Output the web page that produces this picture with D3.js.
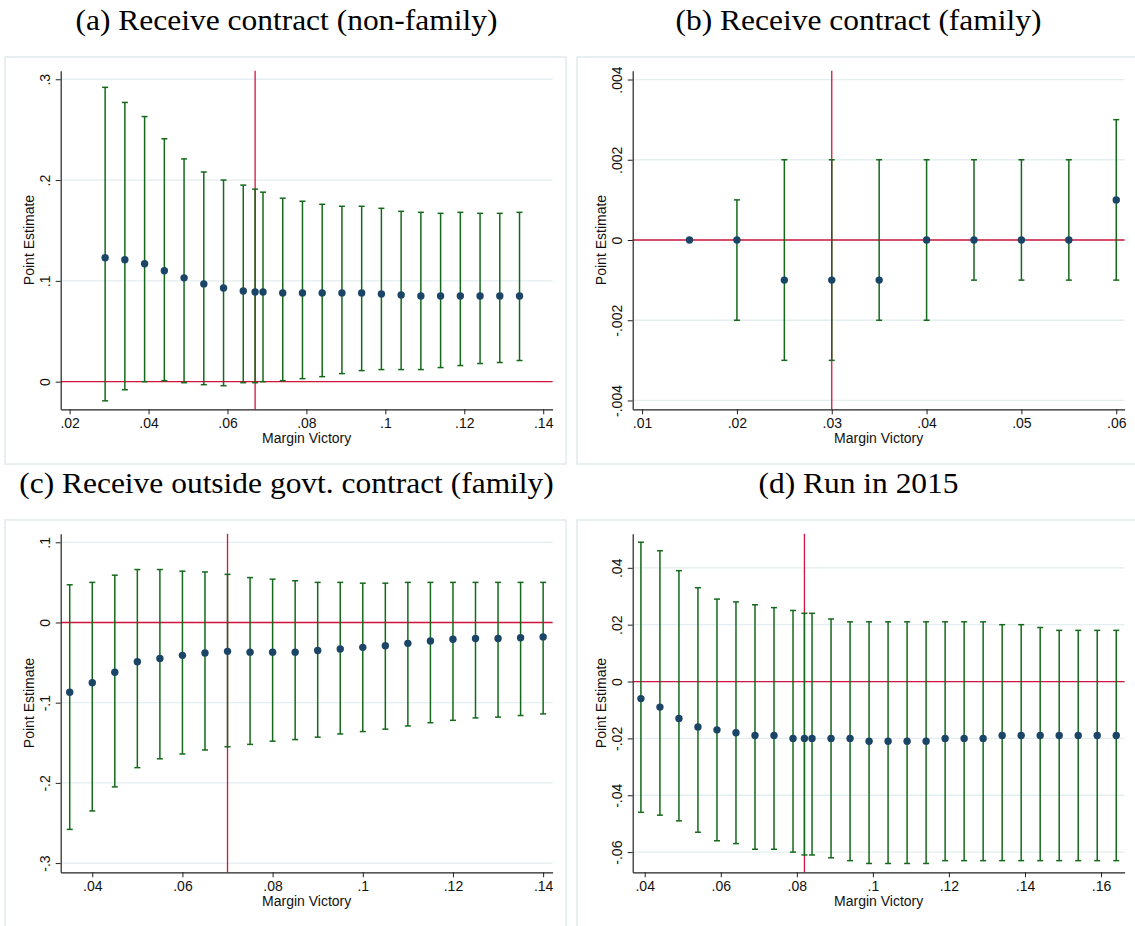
<!DOCTYPE html>
<html>
<head>
<meta charset="utf-8">
<script src="https://cdn.jsdelivr.net/npm/d3@7"></script>
<style>
  html, body { margin: 0; padding: 0; background: #ffffff; }
  svg { display: block; }
</style>
</head>
<body>
<svg id="chart" width="1135" height="926"></svg>
<script>
// ---------------- DATA ----------------
// (a) Receive contract (non-family)
const aX   = [0.029,0.034,0.039,0.044,0.049,0.054,0.059,0.064,0.067,0.069,0.074,0.079,0.084,0.089,0.094,0.099,0.104,0.109,0.114,0.119,0.124,0.129,0.134];
const aEst = [0.123,0.121,0.117,0.110,0.103,0.097,0.093,0.090,0.089,0.089,0.088,0.088,0.088,0.088,0.088,0.087,0.086,0.085,0.085,0.085,0.085,0.085,0.085];
const aHi  = [0.292,0.277,0.263,0.241,0.221,0.208,0.200,0.195,0.191,0.188,0.182,0.179,0.176,0.174,0.174,0.172,0.169,0.168,0.167,0.168,0.167,0.167,0.168];
const aLo  = [-0.019,-0.008,0.000,0.001,-0.001,-0.003,-0.004,-0.001,-0.001,0.000,0.001,0.003,0.005,0.008,0.011,0.012,0.012,0.012,0.014,0.016,0.018,0.019,0.021];
const aCutoff = 0.067;
const aXTicks = [0.02,0.04,0.06,0.08,0.10,0.12,0.14];
const aXLabels = [".02",".04",".06",".08",".1",".12",".14"];
const aYTicks = [0,0.1,0.2,0.3];
const aYLabels = ["0",".1",".2",".3"];

// (b) Receive contract (family)
const bX   = [0.015,0.020,0.025,0.030,0.035,0.040,0.045,0.050,0.055,0.060];
const bEst = [0,0,-0.001,-0.001,-0.001,0,0,0,0,0.001];
const bHi  = [0,0.001,0.002,0.002,0.002,0.002,0.002,0.002,0.002,0.003];
const bLo  = [0,-0.002,-0.003,-0.003,-0.002,-0.002,-0.001,-0.001,-0.001,-0.001];
const bCutoff = 0.03;
const bXTicks = [0.01,0.02,0.03,0.04,0.05,0.06];
const bXLabels = [".01",".02",".03",".04",".05",".06"];
const bYTicks = [-0.004,-0.002,0,0.002,0.004];
const bYLabels = ["-.004","-.002","0",".002",".004"];

// (c) Receive outside govt. contract (family)
const cX   = [0.035,0.040,0.045,0.050,0.055,0.060,0.065,0.070,0.075,0.080,0.085,0.090,0.095,0.100,0.105,0.110,0.115,0.120,0.125,0.130,0.135,0.140];
const cEst = [-0.087,-0.075,-0.062,-0.049,-0.045,-0.041,-0.038,-0.036,-0.037,-0.037,-0.037,-0.035,-0.033,-0.031,-0.029,-0.026,-0.023,-0.021,-0.020,-0.020,-0.019,-0.018];
const cHi  = [0.047,0.050,0.059,0.066,0.066,0.064,0.063,0.060,0.056,0.054,0.052,0.050,0.050,0.049,0.049,0.050,0.050,0.050,0.050,0.050,0.050,0.050];
const cLo  = [-0.258,-0.235,-0.205,-0.181,-0.170,-0.164,-0.159,-0.155,-0.152,-0.148,-0.146,-0.143,-0.139,-0.136,-0.133,-0.129,-0.125,-0.122,-0.119,-0.118,-0.116,-0.114];
const cCutoff = 0.07;
const cXTicks = [0.04,0.06,0.08,0.10,0.12,0.14];
const cXLabels = [".04",".06",".08",".1",".12",".14"];
const cYTicks = [-0.3,-0.2,-0.1,0,0.1];
const cYLabels = ["-.3","-.2","-.1","0",".1"];

// (d) Run in 2015
const dX   = [0.039,0.044,0.049,0.054,0.059,0.064,0.069,0.074,0.079,0.082,0.084,0.089,0.094,0.099,0.104,0.109,0.114,0.119,0.124,0.129,0.134,0.139,0.144,0.149,0.154,0.159,0.164];
const dEst = [-0.006,-0.009,-0.013,-0.016,-0.017,-0.018,-0.019,-0.019,-0.020,-0.020,-0.020,-0.020,-0.020,-0.021,-0.021,-0.021,-0.021,-0.020,-0.020,-0.020,-0.019,-0.019,-0.019,-0.019,-0.019,-0.019,-0.019];
const dHi  = [0.049,0.046,0.039,0.033,0.029,0.028,0.027,0.026,0.025,0.024,0.024,0.022,0.021,0.021,0.021,0.021,0.021,0.021,0.021,0.021,0.020,0.020,0.019,0.018,0.018,0.018,0.018];
const dLo  = [-0.046,-0.047,-0.049,-0.053,-0.056,-0.057,-0.059,-0.059,-0.060,-0.061,-0.061,-0.062,-0.063,-0.064,-0.064,-0.064,-0.064,-0.063,-0.063,-0.063,-0.063,-0.063,-0.063,-0.063,-0.063,-0.063,-0.063];
const dCutoff = 0.082;
const dXTicks = [0.04,0.06,0.08,0.10,0.12,0.14,0.16];
const dXLabels = [".04",".06",".08",".1",".12",".14",".16"];
const dYTicks = [-0.06,-0.04,-0.02,0,0.02,0.04];
const dYLabels = ["-.06","-.04","-.02","0",".02",".04"];

const titles = ["(a) Receive contract (non-family)", "(b) Receive contract (family)",
                "(c) Receive outside govt. contract (family)", "(d) Run in 2015"];
const xTitle = "Margin Victory";
const yTitle = "Point Estimate";

// ---------------- LAYOUT / STYLE ----------------
const panels = [
  {title: titles[0], x: aX, est: aEst, hi: aHi, lo: aLo, cutoff: aCutoff, xt: aXTicks, xl: aXLabels, yt: aYTicks, yl: aYLabels,
   xDom: [0.01774, 0.14238], yDom: [-0.0274, 0.3085], col: 0, row: 0},
  {title: titles[1], x: bX, est: bEst, hi: bHi, lo: bLo, cutoff: bCutoff, xt: bXTicks, xl: bXLabels, yt: bYTicks, yl: bYLabels,
   xDom: [0.00901, 0.06088], yDom: [-0.00422, 0.00422], col: 1, row: 0},
  {title: titles[2], x: cX, est: cEst, hi: cHi, lo: cLo, cutoff: cCutoff, xt: cXTicks, xl: cXLabels, yt: cYTicks, yl: cYLabels,
   xDom: [0.0330, 0.1421], yDom: [-0.3115, 0.1107], col: 0, row: 1},
  {title: titles[3], x: dX, est: dEst, hi: dHi, lo: dLo, cutoff: dCutoff, xt: dXTicks, xl: dXLabels, yt: dYTicks, yl: dYLabels,
   xDom: [0.03684, 0.1662], yDom: [-0.0671, 0.0520], col: 1, row: 1}
];

const C = {
  green: "#15691b",
  navy: "#1b4566",
  red: "#d2143f",
  grid: "#e4edef",
  border: "#e2eaec",
  axis: "#222222",
  text: "#111111"
};
const sans = "'Liberation Sans', Arial, sans-serif";
const serif = "'Liberation Serif', 'Times New Roman', serif";

const svg = d3.select("#chart");
svg.append("rect").attr("width", 1135).attr("height", 926).attr("fill", "#ffffff");

panels.forEach(p => {
  const px = 5 + p.col * 572;
  const py = 57 + p.row * 463;
  const L = px + 55.7, R = px + 547.6, T = py + 13.7, B = py + 352.3;

  const g = svg.append("g");

  // panel frame
  g.append("rect").attr("x", px).attr("y", py).attr("width", 561).attr("height", 407)
    .attr("fill", "#ffffff").attr("stroke", C.border).attr("stroke-width", 1.5);

  // title
  g.append("text")
    .attr("transform", `translate(${px + 281.5},${py - 27}) scale(1.085,1)`)
    .attr("text-anchor", "middle")
    .attr("font-family", serif).attr("font-size", 29).attr("fill", "#000")
    .text(p.title);

  const x = d3.scaleLinear().domain(p.xDom).range([L, R]);
  const y = d3.scaleLinear().domain(p.yDom).range([B, T]);

  // grid lines
  g.append("g").selectAll("line").data(p.yt).join("line")
    .attr("x1", L).attr("x2", R)
    .attr("y1", d => y(d)).attr("y2", d => y(d))
    .attr("stroke", C.grid).attr("stroke-width", 1.3);

  // reference lines
  g.append("line").attr("x1", L).attr("x2", R).attr("y1", y(0)).attr("y2", y(0))
    .attr("stroke", C.red).attr("stroke-width", 1.3);
  g.append("line").attr("x1", x(p.cutoff)).attr("x2", x(p.cutoff)).attr("y1", T).attr("y2", B)
    .attr("stroke", C.red).attr("stroke-width", 1.3);

  // error bars
  const idx = d3.range(p.x.length);
  const bars = g.append("g").attr("stroke", C.green).attr("stroke-width", 1.5);
  bars.selectAll("line.v").data(idx).join("line").attr("class", "v")
    .attr("x1", i => x(p.x[i])).attr("x2", i => x(p.x[i]))
    .attr("y1", i => y(p.lo[i])).attr("y2", i => y(p.hi[i]));
  bars.selectAll("line.hi").data(idx).join("line").attr("class", "hi")
    .attr("x1", i => x(p.x[i]) - 3).attr("x2", i => x(p.x[i]) + 3)
    .attr("y1", i => y(p.hi[i])).attr("y2", i => y(p.hi[i]));
  bars.selectAll("line.lo").data(idx).join("line").attr("class", "lo")
    .attr("x1", i => x(p.x[i]) - 3).attr("x2", i => x(p.x[i]) + 3)
    .attr("y1", i => y(p.lo[i])).attr("y2", i => y(p.lo[i]));

  // points
  g.append("g").selectAll("circle").data(idx).join("circle")
    .attr("cx", i => x(p.x[i])).attr("cy", i => y(p.est[i])).attr("r", 3.7)
    .attr("fill", C.navy);

  // axes
  const xAxis = d3.axisBottom(x).tickValues(p.xt).tickFormat((d, i) => p.xl[i])
    .tickSizeInner(5).tickSizeOuter(0);
  const gx = g.append("g").attr("transform", `translate(0,${B})`).call(xAxis);
  gx.select(".domain").attr("stroke", C.axis).attr("stroke-width", 1.2);
  gx.selectAll(".tick line").attr("stroke", C.axis).attr("stroke-width", 1);
  gx.selectAll(".tick text").attr("y", 18.5).attr("dy", 0)
    .attr("font-family", sans).attr("font-size", 14).attr("fill", C.text);

  const yAxis = d3.axisLeft(y).tickValues(p.yt).tickFormat((d, i) => p.yl[i])
    .tickSizeInner(5).tickSizeOuter(0);
  const gy = g.append("g").attr("transform", `translate(${L},0)`).call(yAxis);
  gy.select(".domain").attr("stroke", C.axis).attr("stroke-width", 1.2);
  gy.selectAll(".tick line").attr("stroke", C.axis).attr("stroke-width", 1);
  gy.selectAll(".tick text")
    .attr("x", 0).attr("y", 0).attr("dy", 0)
    .attr("transform", "translate(-11,0) rotate(-90)")
    .attr("text-anchor", "middle")
    .attr("font-family", sans).attr("font-size", 14).attr("fill", C.text);

  // axis titles
  g.append("text").attr("x", (L + R) / 2).attr("y", B + 33.5)
    .attr("text-anchor", "middle").attr("font-family", sans).attr("font-size", 14).attr("fill", C.text)
    .text(xTitle);
  g.append("text").attr("transform", `translate(${L - 27},${(T + B) / 2}) rotate(-90)`)
    .attr("text-anchor", "middle").attr("font-family", sans).attr("font-size", 14).attr("fill", C.text)
    .text(yTitle);
});
</script>
</body>
</html>
